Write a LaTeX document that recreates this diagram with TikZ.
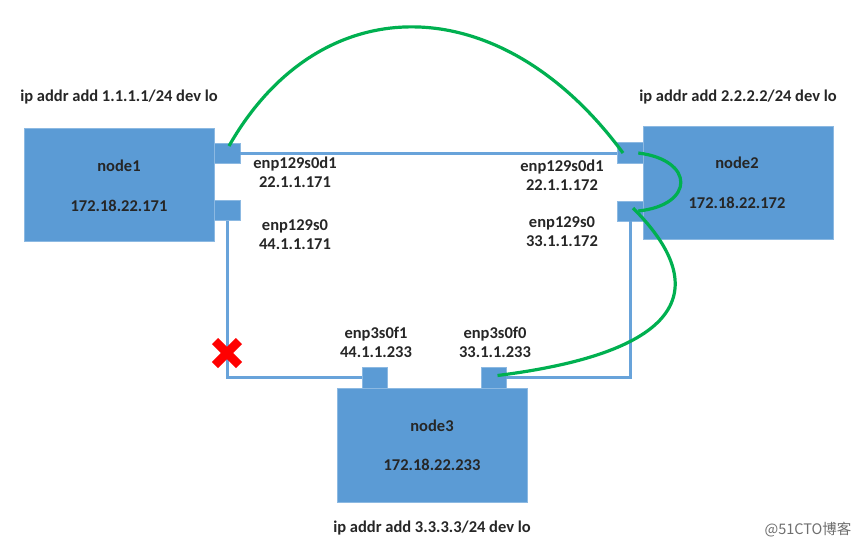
\documentclass[tikz,border=0pt]{standalone}
\usepackage{fontspec}
\setmainfont{Carlito}
\newfontfamily\cjkfont{Noto Sans CJK SC}
\definecolor{hostblue}{RGB}{91,155,213}
\definecolor{linkblue}{RGB}{104,163,218}
\definecolor{wiregreen}{RGB}{0,176,80}
\definecolor{markgray}{RGB}{110,110,110}

\begin{document}
\begin{tikzpicture}[x=1pt,y=-1pt,
  host/.style={fill=hostblue,draw=hostblue!70!white,line width=0.8pt,minimum width=190pt,minimum height=113pt,inner sep=0pt},
  port/.style={fill=hostblue,draw=hostblue!70!white,line width=0.6pt,minimum width=26pt,minimum height=20pt,inner sep=0pt},
  lbl/.style={font=\fontsize{16.5}{19}\selectfont\bfseries,text=black!85,align=center,inner sep=0pt},
  link/.style={draw=linkblue,line width=3pt},
  wire/.style={draw=wiregreen,line width=3.2pt}]
\useasboundingbox (0,0) rectangle (865,547);

% hosts
\node[host] (node1) at (119,185) {};
\node[host] (node2) at (738,183) {};
\node[host,minimum height=114pt] (node3) at (432.5,445) {};

\node[lbl] (n1name) at (119,166) {node1};
\node[lbl] (n1ip) at (119,206) {172.18.22.171};
\node[lbl] (n2name) at (737,163) {node2};
\node[lbl] (n2ip) at (737,203) {172.18.22.172};
\node[lbl] (n3name) at (432,426) {node3};
\node[lbl] (n3ip) at (432,465) {172.18.22.233};

\node[lbl] (lo1) at (119,97) {ip addr add 1.1.1.1/24 dev lo};
\node[lbl] (lo2) at (738,97) {ip addr add 2.2.2.2/24 dev lo};
\node[lbl] (lo3) at (432,528) {ip addr add 3.3.3.3/24 dev lo};

% ports
\node[port] (p1a) at (227,153) {};
\node[port] (p1b) at (227,210.5) {};
\node[port,minimum height=21pt] (p2a) at (630,153) {};
\node[port] (p2b) at (630,211) {};
\node[port,minimum width=25pt,minimum height=21pt] (p3a) at (374.5,377.5) {};
\node[port,minimum width=25pt,minimum height=21pt] (p3b) at (493.5,377.5) {};

% links
\draw[link] (p1a.east) -- (p2a.west);
\draw[link] (p1b.south) |- (p3a.west);
\draw[link] (p2b.south) |- (p3b.east);

\node[lbl] (if1a) at (295,172.5) {enp129s0d1\\22.1.1.171};
\node[lbl] (if1b) at (295,234.5) {enp129s0\\44.1.1.171};
\node[lbl] (if2a) at (562,175.5) {enp129s0d1\\22.1.1.172};
\node[lbl] (if2b) at (562,232) {enp129s0\\33.1.1.172};
\node[lbl] (if3a) at (376,342.5) {enp3s0f1\\44.1.1.233};
\node[lbl] (if3b) at (495,342.5) {enp3s0f0\\33.1.1.233};

% green path
\draw[wire] ([shift={(2,-7)}]p1a.center) .. controls (320,-14) and (500,-14) .. ([shift={(-7,0)}]p2a.center);
\draw[wire] ([xshift=-5pt]p2a.east) .. controls (695,160) and (695,205) .. ([xshift=-5pt]p2b.east);
\draw[wire] ([shift={(3,-3)}]p2b.center) .. controls (705,280) and (700,350) .. ([shift={(4,-2)}]p3b.center);

% broken link
\draw[red,line width=8.5pt] (215,341) -- (239,365);
\draw[red,line width=8.5pt] (215,365) -- (239,341);

\node[font=\cjkfont\fontsize{14.5}{16}\selectfont,text=markgray,inner sep=0pt] (mark) at (808,530) {@51CTO博客};
\end{tikzpicture}
\end{document}
